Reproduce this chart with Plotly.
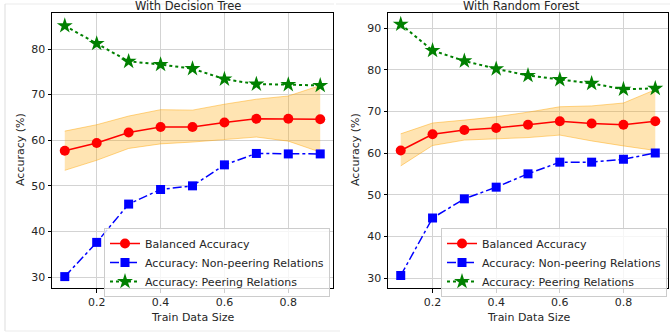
import plotly.graph_objects as go

W, H = 671, 334
train_size = [0.1, 0.2, 0.3, 0.4, 0.5, 0.6, 0.7, 0.8, 0.9]

# With Decision Tree
dt_balanced = [57.7, 59.4, 61.7, 62.9, 62.9, 63.9, 64.7, 64.7, 64.6]
dt_bal_upper = [62.0, 63.4, 65.3, 66.7, 66.6, 67.9, 69.0, 69.7, 72.0]
dt_bal_lower = [53.4, 55.6, 58.2, 59.2, 59.6, 60.1, 60.7, 59.8, 57.4]
dt_nonpeer = [30.1, 37.6, 46.0, 49.2, 50.0, 54.6, 57.1, 57.0, 57.0]
dt_peer = [85.1, 81.2, 77.3, 76.6, 75.7, 73.4, 72.3, 72.2, 72.0]

# With Random Forest
rf_balanced = [60.6, 64.5, 65.5, 66.0, 66.8, 67.6, 67.1, 66.8, 67.6]
rf_bal_upper = [64.6, 67.2, 67.9, 68.7, 69.8, 71.1, 71.3, 72.0, 75.2]
rf_bal_lower = [56.9, 61.8, 63.1, 63.4, 63.7, 64.3, 62.9, 61.7, 60.6]
rf_nonpeer = [30.6, 44.4, 49.0, 51.8, 55.0, 57.8, 57.8, 58.5, 60.0]
rf_peer = [90.9, 84.6, 82.1, 80.2, 78.6, 77.6, 76.7, 75.3, 75.5]

titles = ["With Decision Tree", "With Random Forest"]
x_ticks = [0.2, 0.4, 0.6, 0.8]

FONT = "DejaVu Sans"
fig = go.Figure()

panels = [
    dict(bal=dt_balanced, up=dt_bal_upper, lo=dt_bal_lower, non=dt_nonpeer, peer=dt_peer,
         xd=[52 / W, 333 / W], yr=[27.6, 87.9], yt=[30, 40, 50, 60, 70, 80], legend="legend"),
    dict(bal=rf_balanced, up=rf_bal_upper, lo=rf_bal_lower, non=rf_nonpeer, peer=rf_peer,
         xd=[388 / W, 668 / W], yr=[27.6, 93.6], yt=[30, 40, 50, 60, 70, 80, 90], legend="legend2"),
]
yd = [(H - 288) / H, (H - 13) / H]

for i, p in enumerate(panels):
    xa = "x" if i == 0 else "x2"
    ya = "y" if i == 0 else "y2"
    # band
    fig.add_trace(go.Scatter(x=train_size, y=p["up"], mode="lines",
                             line=dict(color="rgba(255,165,0,0.45)", width=1),
                             showlegend=False, hoverinfo="skip", xaxis=xa, yaxis=ya))
    fig.add_trace(go.Scatter(x=train_size, y=p["lo"], mode="lines", fill="tonexty",
                             fillcolor="rgba(255,165,0,0.3)",
                             line=dict(color="rgba(255,165,0,0.45)", width=1),
                             showlegend=False, hoverinfo="skip", xaxis=xa, yaxis=ya))
    fig.add_trace(go.Scatter(x=train_size, y=p["bal"], mode="lines+markers", name="Balanced Accuracy",
                             line=dict(color="red", width=1.5),
                             marker=dict(symbol="circle", size=10, color="red"),
                             xaxis=xa, yaxis=ya, legend=p["legend"]))
    fig.add_trace(go.Scatter(x=train_size, y=p["non"], mode="lines+markers",
                             name="Accuracy: Non-peering Relations",
                             line=dict(color="blue", width=1.5, dash="dashdot"),
                             marker=dict(symbol="square", size=9, color="blue"),
                             xaxis=xa, yaxis=ya, legend=p["legend"]))
    fig.add_trace(go.Scatter(x=train_size, y=p["peer"], mode="lines+markers",
                             name="Accuracy: Peering Relations",
                             line=dict(color="green", width=2, dash="dot"),
                             marker=dict(symbol="star", size=12, color="green"),
                             xaxis=xa, yaxis=ya, legend=p["legend"]))

axis_common = dict(showgrid=True, gridcolor="#d3d3d3", gridwidth=1, zeroline=False,
                   showline=True, linecolor="black", linewidth=1, mirror=True,
                   ticks="outside", ticklen=3.5, tickcolor="black",
                   tickfont=dict(family=FONT, size=11, color="#262626"))

legend_common = dict(xanchor="left", yanchor="top", traceorder="normal",
                     bgcolor="rgba(255,255,255,0.8)", bordercolor="#cccccc", borderwidth=1,
                     font=dict(family=FONT, size=11, color="#262626"), tracegroupgap=0, itemwidth=30)

layout = dict(
    width=W, height=H, margin=dict(l=0, r=0, t=0, b=0),
    paper_bgcolor="white", plot_bgcolor="white", showlegend=True,
    xaxis=dict(domain=panels[0]["xd"], range=[0.06, 0.94], tickvals=x_ticks,
               ticktext=[f"{v:.1f}" for v in x_ticks], anchor="y", **axis_common),
    yaxis=dict(domain=yd, range=panels[0]["yr"], tickvals=panels[0]["yt"], anchor="x", **axis_common),
    xaxis2=dict(domain=panels[1]["xd"], range=[0.06, 0.94], tickvals=x_ticks,
                ticktext=[f"{v:.1f}" for v in x_ticks], anchor="y2", **axis_common),
    yaxis2=dict(domain=yd, range=panels[1]["yr"], tickvals=panels[1]["yt"], anchor="x2", **axis_common),
    legend=dict(x=104 / W, y=(H - 228) / H, **legend_common),
    legend2=dict(x=441 / W, y=(H - 228) / H, **legend_common),
)
fig.update_layout(**layout)

annots = []
centers = [188, 521]
for i, t in enumerate(titles):
    annots.append(dict(text=t, x=centers[i] / W, y=(H - 6) / H, xref="paper", yref="paper",
                       showarrow=False, xanchor="center", yanchor="middle",
                       font=dict(family=FONT, size=11.5, color="#262626")))
    annots.append(dict(text="Train Data Size", x=(panels[i]["xd"][0] + panels[i]["xd"][1]) / 2,
                       y=(H - 317) / H, xref="paper", yref="paper", showarrow=False,
                       xanchor="center", yanchor="middle",
                       font=dict(family=FONT, size=11, color="#262626")))
    annots.append(dict(text="Accuracy (%)", x=[20, 355][i] / W, y=(H - 150) / H, xref="paper",
                       yref="paper", showarrow=False, textangle=-90, xanchor="center",
                       yanchor="middle", font=dict(family=FONT, size=11, color="#262626")))
fig.update_layout(annotations=annots)

# faint image frames
shapes = []
for x0, x1 in [(5, 334), (336, 670)]:
    shapes.append(dict(type="line", xref="paper", yref="paper", x0=x0 / W, x1=x1 / W,
                       y0=(H - 4) / H, y1=(H - 4) / H, line=dict(color="#ebebeb", width=1)))
shapes.append(dict(type="line", xref="paper", yref="paper", x0=5 / W, x1=5 / W,
                   y0=(H - 4) / H, y1=(H - 331) / H, line=dict(color="#dddddd", width=1)))
shapes.append(dict(type="line", xref="paper", yref="paper", x0=5 / W, x1=340 / W,
                   y0=(H - 331) / H, y1=(H - 331) / H, line=dict(color="#ebebeb", width=1)))
fig.update_layout(shapes=shapes)

fig.write_html("out.html")
